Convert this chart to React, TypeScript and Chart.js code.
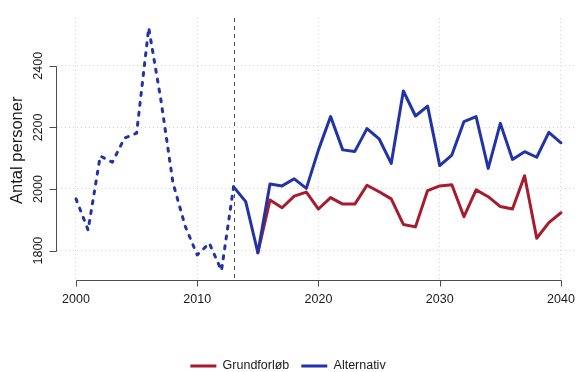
import { useEffect, useRef } from 'react';
import { Chart, registerables } from 'chart.js';

Chart.register(...registerables);

// ---- data ----
const histYears = [2000, 2001, 2002, 2003, 2004, 2005, 2006, 2007, 2008, 2009, 2010, 2011, 2012, 2013];
const histValues = [1968, 1867, 2107, 2087, 2165, 2181, 2523, 2290, 2020, 1880, 1786, 1824, 1735, 2007];

const altYears = [2013, 2014, 2015, 2016, 2017, 2018, 2019, 2020, 2021, 2022, 2023, 2024, 2025, 2026,
  2027, 2028, 2029, 2030, 2031, 2032, 2033, 2034, 2035, 2036, 2037, 2038, 2039, 2040];
const altValues = [2007, 1959, 1793, 2016, 2010, 2033, 2002, 2127, 2235, 2127, 2122, 2196, 2163, 2083,
  2318, 2237, 2269, 2076, 2110, 2219, 2235, 2067, 2213, 2096, 2121, 2103, 2184, 2150];

const baseYears = [2015, 2016, 2017, 2018, 2019, 2020, 2021, 2022, 2023, 2024, 2025, 2026,
  2027, 2028, 2029, 2030, 2031, 2032, 2033, 2034, 2035, 2036, 2037, 2038, 2039, 2040];
const baseValues = [1793, 1964, 1939, 1977, 1990, 1935, 1972, 1951, 1951, 2012, 1991, 1968,
  1885, 1877, 1995, 2010, 2014, 1910, 1997, 1975, 1943, 1935, 2043, 1840, 1891, 1923];

const xTickValues = [2000, 2010, 2020, 2030, 2040];
const yTickValues = [1800, 2000, 2200, 2400];
const splitYear = 2013;
const seriesNames = ['Grundforløb', 'Alternativ'];
const yTitle = 'Antal personer';

const FONT = '"Liberation Sans", Arial, Helvetica, sans-serif';
const BLUE = '#2233a8';
const RED = '#a81a2e';
const AXIS = '#4d4d4d';
const TEXT = '#1a1a1a';

const toPoints = (xs: number[], ys: number[]) => xs.map((x, i) => ({ x, y: ys[i] }));

const rAxesPlugin = {
  id: 'rAxes',
  beforeDatasetsDraw(chart: any) {
    const { ctx, chartArea, scales } = chart;
    const px = Math.round(scales.x.getPixelForValue(splitYear)) + 0.5;
    ctx.save();
    ctx.strokeStyle = '#555555';
    ctx.lineWidth = 1;
    ctx.setLineDash([4, 4]);
    ctx.beginPath();
    ctx.moveTo(px, chartArea.top);
    ctx.lineTo(px, chartArea.bottom);
    ctx.stroke();
    ctx.restore();
  },
  afterDraw(chart: any) {
    const { ctx, chartArea, scales } = chart;
    const x = scales.x;
    const y = scales.y;
    ctx.save();
    ctx.setLineDash([]);
    ctx.strokeStyle = AXIS;
    ctx.lineWidth = 1;

    // y axis (R style, spans first..last tick)
    const ax = Math.floor(chartArea.left) + 0.5;
    const yTop = Math.round(y.getPixelForValue(yTickValues[yTickValues.length - 1])) + 0.5;
    const yBot = Math.round(y.getPixelForValue(yTickValues[0])) + 0.5;
    ctx.beginPath();
    ctx.moveTo(ax, yTop);
    ctx.lineTo(ax, yBot);
    yTickValues.forEach((v) => {
      const py = Math.round(y.getPixelForValue(v)) + 0.5;
      ctx.moveTo(ax, py);
      ctx.lineTo(ax - 7, py);
    });
    ctx.stroke();

    // x axis
    const ay = Math.floor(chartArea.bottom) + 0.5;
    const xL = Math.round(x.getPixelForValue(xTickValues[0])) + 0.5;
    const xR = Math.round(x.getPixelForValue(xTickValues[xTickValues.length - 1])) + 0.5;
    ctx.beginPath();
    ctx.moveTo(xL, ay);
    ctx.lineTo(xR, ay);
    xTickValues.forEach((v) => {
      const px = Math.round(x.getPixelForValue(v)) + 0.5;
      ctx.moveTo(px, ay);
      ctx.lineTo(px, ay + 6);
    });
    ctx.stroke();

    // labels
    ctx.fillStyle = TEXT;
    ctx.font = `12.5px ${FONT}`;
    ctx.textAlign = 'center';
    ctx.textBaseline = 'middle';
    xTickValues.forEach((v) => {
      ctx.fillText(String(v), x.getPixelForValue(v), ay + 19.5);
    });
    yTickValues.forEach((v) => {
      ctx.save();
      ctx.translate(38.5, y.getPixelForValue(v));
      ctx.rotate(-Math.PI / 2);
      ctx.fillText(String(v), 0, 0);
      ctx.restore();
    });
    ctx.font = `16.5px ${FONT}`;
    ctx.save();
    ctx.translate(17.5, (chartArea.top + chartArea.bottom) / 2 + 1);
    ctx.rotate(-Math.PI / 2);
    ctx.fillText(yTitle, 0, 0);
    ctx.restore();
    ctx.restore();
  },
};

export default function App() {
  const ref = useRef<HTMLCanvasElement | null>(null);

  useEffect(() => {
    if (!ref.current) return;
    const chart = new Chart(ref.current, {
      type: 'line',
      data: {
        datasets: [
          {
            label: 'hist',
            data: toPoints(histYears, histValues),
            borderColor: BLUE,
            backgroundColor: BLUE,
            borderWidth: 3,
            borderDash: [3, 7],
            borderCapStyle: 'round',
            borderJoinStyle: 'round',
            pointRadius: 0,
            tension: 0,
            order: 2,
          },
          {
            label: seriesNames[0],
            data: toPoints(baseYears, baseValues),
            borderColor: RED,
            backgroundColor: RED,
            borderWidth: 3,
            borderCapStyle: 'round',
            borderJoinStyle: 'round',
            pointRadius: 0,
            tension: 0,
            order: 1,
          },
          {
            label: seriesNames[1],
            data: toPoints(altYears, altValues),
            borderColor: BLUE,
            backgroundColor: BLUE,
            borderWidth: 3,
            borderCapStyle: 'round',
            borderJoinStyle: 'round',
            pointRadius: 0,
            tension: 0,
            order: 0,
          },
        ],
      },
      options: {
        responsive: false,
        animation: false,
        devicePixelRatio: 1,
        layout: { padding: { top: 18, left: 0, right: 0, bottom: 0.75 } },
        scales: {
          x: {
            type: 'linear',
            min: 1998.41,
            max: 2041.24,
            afterBuildTicks: (s: any) => { s.ticks = xTickValues.map((v) => ({ value: v })); },
            afterFit: (s: any) => { s.height = 67.25; },
            ticks: { display: false },
            grid: { color: '#d3d3d3', drawTicks: false, lineWidth: 1 },
            border: { display: false, dash: [1, 3] },
          },
          y: {
            type: 'linear',
            min: 1703,
            max: 2555,
            afterBuildTicks: (s: any) => { s.ticks = yTickValues.map((v) => ({ value: v })); },
            afterFit: (s: any) => { s.width = 56.7; },
            ticks: { display: false },
            grid: { color: '#d3d3d3', drawTicks: false, lineWidth: 1 },
            border: { display: false, dash: [1, 3] },
          },
        },
        plugins: {
          tooltip: { enabled: false },
          legend: {
            display: true,
            position: 'bottom',
            labels: {
              usePointStyle: true,
              pointStyle: 'line',
              pointStyleWidth: 26,
              padding: 12,
              color: TEXT,
              font: { size: 12.5, family: FONT },
              filter: (item: any) => item.datasetIndex !== 0,
              sort: (a: any, b: any) => a.datasetIndex - b.datasetIndex,
            },
          },
        },
      },
      plugins: [rAxesPlugin],
    } as any);
    return () => chart.destroy();
  }, []);

  return (
    <div style={{ position: 'fixed', left: 0, top: 0, width: 576, height: 372, overflow: 'hidden', background: '#fff' }}>
      <canvas ref={ref} width={576} height={383} style={{ display: 'block' }} />
    </div>
  );
}
